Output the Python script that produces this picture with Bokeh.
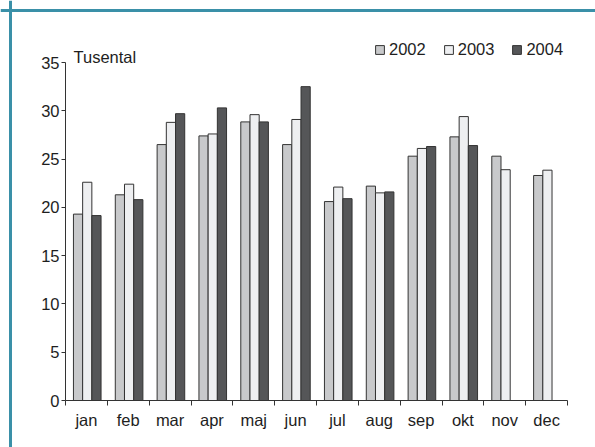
import numpy as np
from bokeh.plotting import figure
from bokeh.models import (ColumnDataSource, FixedTicker, Legend, LegendItem, Label, Range1d,
                          LinearAxis, Span)
from bokeh.transform import dodge
from bokeh.embed import file_html
from bokeh.resources import INLINE

months = ["jan", "feb", "mar", "apr", "maj", "jun", "jul", "aug", "sep", "okt", "nov", "dec"]
y2002 = [19.3, 21.3, 26.5, 27.4, 28.85, 26.5, 20.6, 22.2, 25.3, 27.3, 25.3, 23.3]
y2003 = [22.6, 22.4, 28.8, 27.6, 29.6, 29.1, 22.1, 21.5, 26.1, 29.4, 23.9, 23.85]
y2004 = [19.15, 20.8, 29.7, 30.3, 28.85, 32.5, 20.9, 21.6, 26.3, 26.4, float("nan"), float("nan")]
series = ["2002", "2003", "2004"]
colors = ["#c8c9cb", "#eeeff1", "#555658"]
y_ticks = [0, 5, 10, 15, 20, 25, 30, 35]

FONT = "Liberation Sans"
FS = "16.5px"
TXT = "#1e1e1e"

W, H = 595, 447
# plot-area placement inside the canvas (pixels)
left_px, right_px, top_px, bottom_px = 65, 567, 62, 400
n = len(months)
ymax = 35
xs = (right_px - left_px) / n
ys = (bottom_px - top_px) / ymax
x_range = Range1d(-left_px / xs, (W - left_px) / xs)
y_range = Range1d(-(H - bottom_px) / ys, bottom_px / ys)

src = ColumnDataSource(dict(x=np.arange(n) + 0.5, y2002=y2002, y2003=y2003, y2004=y2004))

p = figure(width=W, height=H, output_backend="svg", toolbar_location=None,
           x_range=x_range, y_range=y_range, x_axis_type=None, y_axis_type=None,
           min_border=0)
p.outline_line_color = None
p.background_fill_color = "white"
p.border_fill_color = "white"

# teal frame lines (top and left)
p.add_layout(Span(location=x_range.start + 10 / xs, dimension="height",
                  line_color="#3a90a8", line_width=3))
p.add_layout(Span(location=y_range.end - 10 / ys, dimension="width",
                  line_color="#3a90a8", line_width=3))

offsets = [-0.2, 0.02, 0.24]
renderers = []
for s, c, off in zip(series, colors, offsets):
    r = p.vbar(x=dodge("x", off), top="y" + s, width=0.22, source=src,
               fill_color=c, line_color="#333333", line_width=1)
    renderers.append(r)

# y axis
yaxis = LinearAxis(fixed_location=0, bounds=(0, ymax), ticker=FixedTicker(ticks=y_ticks))
yaxis.axis_line_color = "#333333"
yaxis.major_tick_line_color = "#333333"
yaxis.major_tick_out = 4
yaxis.major_tick_in = 0
yaxis.minor_tick_line_color = None
yaxis.major_label_standoff = 2
yaxis.major_label_text_font = FONT
yaxis.major_label_text_font_size = FS
yaxis.major_label_text_color = TXT
p.add_layout(yaxis, "left")

# x axis: ticks at month boundaries, labels at centres
xaxis = LinearAxis(fixed_location=0, bounds=(0, n),
                   ticker=FixedTicker(ticks=list(np.arange(n) + 0.5), minor_ticks=list(range(n + 1))))
xaxis.major_label_overrides = {float(i) + 0.5: m for i, m in enumerate(months)}
xaxis.axis_line_color = "#333333"
xaxis.major_tick_line_color = None
xaxis.major_tick_out = 0
xaxis.major_tick_in = 0
xaxis.minor_tick_line_color = "#333333"
xaxis.minor_tick_out = 5
xaxis.minor_tick_in = 0
xaxis.major_label_standoff = 5
xaxis.major_label_text_font = FONT
xaxis.major_label_text_font_size = FS
xaxis.major_label_text_color = TXT
p.add_layout(xaxis, "below")

# horizontal grid
p.ygrid.grid_line_color = "#444444"
p.ygrid.grid_line_width = 1
p.ygrid.ticker = FixedTicker(ticks=y_ticks[1:])
p.ygrid.cross_bounds = (0, n)
p.xgrid.grid_line_color = None

# unit label
p.add_layout(Label(x=0, y=ymax, x_offset=8, y_offset=6, text="Tusental",
                   text_font=FONT, text_font_size=FS, text_color=TXT,
                   text_baseline="alphabetic"))

legend = Legend(items=[LegendItem(label=s, renderers=[r]) for s, r in zip(series, renderers)],
                orientation="horizontal", location=(374, H - 59),
                glyph_width=11, glyph_height=11, label_standoff=4, spacing=17,
                padding=0, margin=0, border_line_color=None, background_fill_alpha=0,
                label_text_font=FONT, label_text_font_size=FS, label_text_color=TXT,
                label_height=11)
p.add_layout(legend, "center")

open("out.html", "w").write(file_html(p, INLINE))
